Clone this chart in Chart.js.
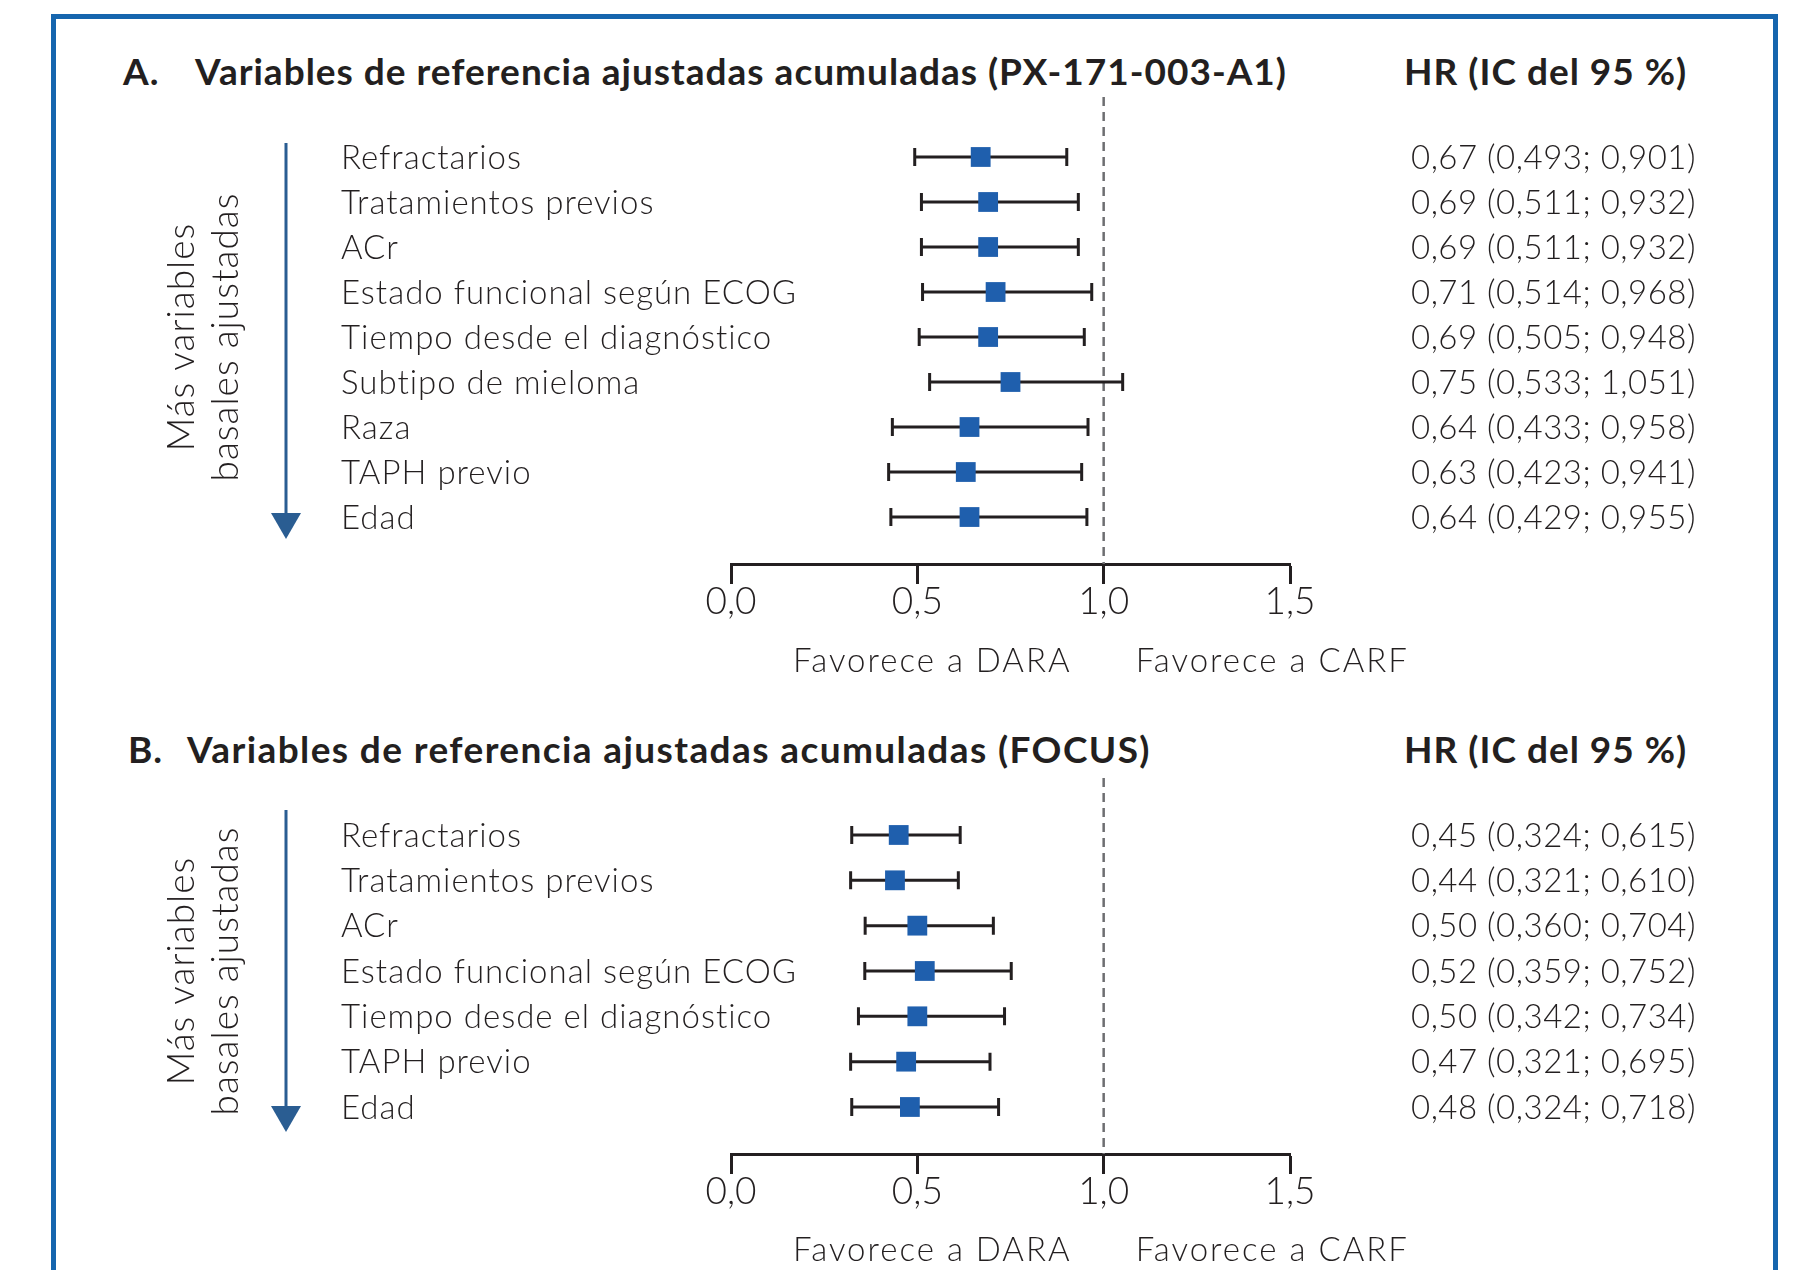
<!DOCTYPE html>
<html>
<head>
<meta charset="utf-8">
<script src="https://cdn.jsdelivr.net/npm/chart.js@4.4.1/dist/chart.umd.min.js"></script>
<style>
  body { margin: 0; background: #fff; width: 1793px; height: 1270px; overflow: hidden; position: relative; font-family: Lato, sans-serif; color: #231f20; }
  #frame { position: absolute; left: 51px; top: 14px; width: 1717px; height: 1300px; border: 5px solid #1565ae; border-bottom: none; }
  .title { position: absolute; font-weight: 700; font-size: 37px; letter-spacing: 1px; line-height: 40px; white-space: nowrap; }
  canvas { position: absolute; left: 0; }
</style>
</head>
<body>
<div id="frame"></div>
<div class="title" style="left:123px;top:51px">A.</div>
<div class="title" style="left:195px;top:51px">Variables de referencia ajustadas acumuladas (PX-171-003-A1)</div>
<div class="title" style="left:1404px;top:51px">HR (IC del 95 %)</div>
<div class="title" style="left:128px;top:729px">B.</div>
<div class="title" style="left:187px;top:729px;letter-spacing:1.4px">Variables de referencia ajustadas acumuladas (FOCUS)</div>
<div class="title" style="left:1404px;top:729px">HR (IC del 95 %)</div>

<canvas id="chartA" width="1793" height="620" style="top:80px"></canvas>
<canvas id="chartB" width="1793" height="510" style="top:760px"></canvas>

<script>
// Panel A: PX-171-003-A1
const catsA = ['Refractarios', 'Tratamientos previos', 'ACr', 'Estado funcional según ECOG',
  'Tiempo desde el diagnóstico', 'Subtipo de mieloma', 'Raza', 'TAPH previo', 'Edad'];
const hrA = [0.67, 0.69, 0.69, 0.71, 0.69, 0.75, 0.64, 0.63, 0.64];
const loA = [0.493, 0.511, 0.511, 0.514, 0.505, 0.533, 0.433, 0.423, 0.429];
const hiA = [0.901, 0.932, 0.932, 0.968, 0.948, 1.051, 0.958, 0.941, 0.955];

// Panel B: FOCUS
const catsB = ['Refractarios', 'Tratamientos previos', 'ACr', 'Estado funcional según ECOG',
  'Tiempo desde el diagnóstico', 'TAPH previo', 'Edad'];
const hrB = [0.45, 0.44, 0.50, 0.52, 0.50, 0.47, 0.48];
const loB = [0.324, 0.321, 0.360, 0.359, 0.342, 0.321, 0.324];
const hiB = [0.615, 0.610, 0.704, 0.752, 0.734, 0.695, 0.718];

const xTicks = [0, 0.5, 1.0, 1.5];
const sideTitle = ['Más variables', 'basales ajustadas'];
const favLabels = ['Favorece a DARA', 'Favorece a CARF'];

const INK = '#231f20';
const LIGHT = '300 33px Lato, "Open Sans", sans-serif';

function comma(v, d) { return v.toFixed(d).replace('.', ','); }

function makeForest(id, cats, hr, lo, hi, lay) {
  const decor = {
    id: 'decor' + id,
    beforeDatasetsDraw(chart) {
      const ctx = chart.ctx, x = chart.scales.x, y = chart.scales.y, a = chart.chartArea;
      ctx.save();
      // reference line at HR = 1
      ctx.strokeStyle = '#6d6e71';
      ctx.lineWidth = 2.5;
      ctx.setLineDash([9, 6]);
      ctx.beginPath();
      ctx.moveTo(x.getPixelForValue(1), a.top);
      ctx.lineTo(x.getPixelForValue(1), a.bottom);
      ctx.stroke();
      ctx.setLineDash([]);
      // confidence intervals
      ctx.strokeStyle = INK;
      ctx.lineWidth = 3;
      cats.forEach((c, i) => {
        const py = y.getPixelForValue(i);
        const x0 = x.getPixelForValue(lo[i]), x1 = x.getPixelForValue(hi[i]);
        ctx.beginPath();
        ctx.moveTo(x0, py); ctx.lineTo(x1, py);
        ctx.moveTo(x0, py - 9); ctx.lineTo(x0, py + 9);
        ctx.moveTo(x1, py - 9); ctx.lineTo(x1, py + 9);
        ctx.stroke();
      });
      ctx.restore();
    },
    afterDraw(chart) {
      const ctx = chart.ctx, x = chart.scales.x, y = chart.scales.y, a = chart.chartArea;
      ctx.save();
      ctx.fillStyle = INK;
      ctx.font = LIGHT;
      ctx.letterSpacing = '1px';
      ctx.textBaseline = 'middle';
      // row labels and HR text
      cats.forEach((c, i) => {
        const py = y.getPixelForValue(i) + 1;
        ctx.textAlign = 'left';
        ctx.fillText(c, 341, py);
        const s = comma(hr[i], 2) + ' (' + comma(lo[i], 3) + '; ' + comma(hi[i], 3) + ')';
        ctx.letterSpacing = '0.5px';
        ctx.fillText(s, 1411, py);
        ctx.letterSpacing = '1px';
      });
      // favours labels
      const x1 = x.getPixelForValue(1);
      ctx.letterSpacing = '2px';
      ctx.textAlign = 'right';
      ctx.fillText(favLabels[0], x1 - 32, a.bottom + lay.favDy);
      ctx.textAlign = 'left';
      ctx.fillText(favLabels[1], x1 + 32, a.bottom + lay.favDy);
      // arrow
      const top = y.getPixelForValue(0) - lay.arrowUp;
      const tip = y.getPixelForValue(cats.length - 1) + lay.arrowDown;
      ctx.strokeStyle = '#2a5d92';
      ctx.fillStyle = '#2a5d92';
      ctx.lineWidth = 3;
      ctx.beginPath();
      ctx.moveTo(286, top); ctx.lineTo(286, tip - 20);
      ctx.stroke();
      ctx.beginPath();
      ctx.moveTo(271, tip - 26); ctx.lineTo(301, tip - 26); ctx.lineTo(286, tip);
      ctx.closePath();
      ctx.fill();
      // rotated side title
      const mid = (y.getPixelForValue(0) + y.getPixelForValue(cats.length - 1)) / 2 + lay.sideDy;
      ctx.fillStyle = INK;
      ctx.font = '300 37px Lato, "Open Sans", sans-serif';
      ctx.letterSpacing = '1px';
      ctx.textAlign = 'center';
      ctx.save();
      ctx.translate(182, mid);
      ctx.rotate(-Math.PI / 2);
      ctx.fillText(sideTitle[0], 0, 0);
      ctx.fillText(sideTitle[1], 0, 44);
      ctx.restore();
      ctx.restore();
    }
  };

  return new Chart(document.getElementById(id), {
    type: 'scatter',
    data: {
      datasets: [{
        data: hr.map((v, i) => ({ x: v, y: i })),
        pointStyle: 'rect',
        pointRadius: 14,
        pointHoverRadius: 14,
        backgroundColor: '#1f5fad',
        borderWidth: 0
      }]
    },
    options: {
      responsive: false,
      animation: false,
      events: [],
      layout: { padding: { left: 731, right: 503, top: lay.padTop, bottom: lay.padBottom } },
      plugins: { legend: { display: false }, tooltip: { enabled: false } },
      scales: {
        x: {
          type: 'linear',
          min: 0, max: 1.5,
          afterBuildTicks(scale) { scale.ticks = xTicks.map(v => ({ value: v })); },
          afterFit(scale) { scale.height = 60; },
          border: { display: true, color: INK, width: 3 },
          grid: { drawOnChartArea: false, drawTicks: true, tickLength: 20, tickWidth: 3, tickColor: INK },
          ticks: {
            color: INK,
            padding: -4,
            font: { family: 'Lato', weight: 300, size: 37 },
            maxRotation: 0,
            callback: v => comma(v, 1)
          }
        },
        y: { type: 'linear', display: false, reverse: true, min: lay.yMin, max: lay.yMax }
      }
    },
    plugins: [decor]
  });
}

makeForest('chartA', catsA, hrA, loA, hiA,
  { padTop: 17, padBottom: 76, yMin: -1.333, yMax: 9.044, favDy: 97, arrowUp: 14, arrowDown: 22, sideDy: 0 });
makeForest('chartB', catsB, hrB, loB, hiB,
  { padTop: 18, padBottom: 56, yMin: -1.257, yMax: 7.037, favDy: 96, arrowUp: 25, arrowDown: 25, sideDy: 0 });
</script>
</body>
</html>
